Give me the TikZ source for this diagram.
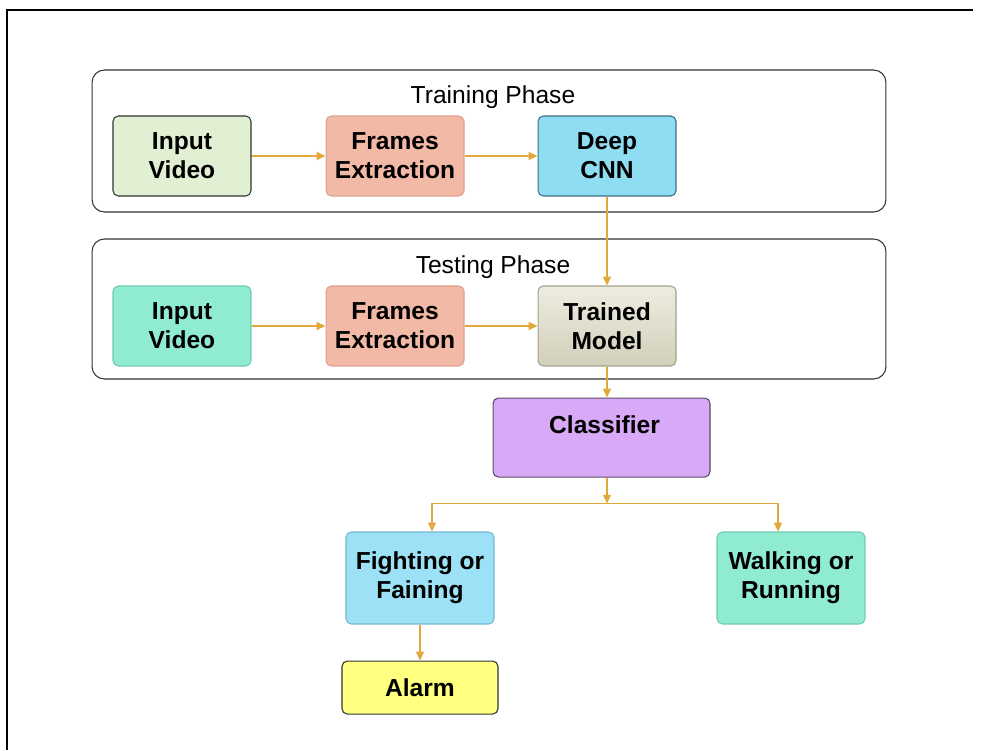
\documentclass[tikz,border=0pt]{standalone}
\usepackage{fontspec}
\setmainfont{Liberation Sans}
\usetikzlibrary{positioning, arrows.meta}
\definecolor{arrowcol}{HTML}{E2A83C}
\definecolor{greenfill}{HTML}{E1EFD2}
\definecolor{salmonfill}{HTML}{F2B9A6}
\definecolor{salmonline}{HTML}{DDA08E}
\definecolor{cyanfill}{HTML}{8EDDF3}
\definecolor{cyanline}{HTML}{3E6E82}
\definecolor{aquafill}{HTML}{90EBD3}
\definecolor{aqualine}{HTML}{72C9B2}
\definecolor{modeltop}{HTML}{EEECDF}
\definecolor{modelbot}{HTML}{D2D0BA}
\definecolor{modelline}{HTML}{A3A18B}
\definecolor{purplefill}{HTML}{D7A9F7}
\definecolor{purpleline}{HTML}{5C4C68}
\definecolor{skyfill}{HTML}{9DE1F7}
\definecolor{skyline}{HTML}{72B9D2}
\definecolor{yellowfill}{HTML}{FFFF80}
\tikzstyle{arrow} = [draw=arrowcol, line width=0.7pt, -{Triangle[length=5pt,width=4.5pt]}]
\tikzstyle{phase} = [draw=black!80, rounded corners=7pt, line width=0.6pt, minimum width=15.88cm, inner sep=0pt]
\tikzstyle{phasetitle} = [font=\fontsize{14}{16.5}\selectfont, inner sep=0pt]
\tikzstyle{blk} = [rectangle, rounded corners=3pt, minimum width=2.76cm, minimum height=1.6cm, align=center, font=\fontsize{14}{16.5}\selectfont\bfseries, inner sep=0pt, line width=0.6pt]

\begin{document}
\begin{tikzpicture}[x=0.02cm, y=-0.02cm]
		\useasboundingbox (0,0) rectangle (983,750);
		\draw [line width=1.6pt] (7,750) -- (7,10) -- (973,10);
		\node (train) [phase, minimum height=2.84cm] at (489,141) {};
		\node (trtitle) [phasetitle] at (493,97) {Training Phase};
		\node (test) [phase, minimum height=2.8cm] at (489,309) {};
		\node (tetitle) [phasetitle] at (493,267) {Testing Phase};
		\node (in1) [blk, fill=greenfill, draw=black!80] at (182,156) {Input\\Video};
		\node (fe1) [blk, fill=salmonfill, draw=salmonline, right=1.48cm of in1] {Frames\\Extraction};
		\node (cnn) [blk, fill=cyanfill, draw=cyanline, right=1.46cm of fe1] {Deep\\CNN};
		\draw [arrow] (in1) -- (fe1);
		\draw [arrow] (fe1) -- (cnn);
		\node (in2) [blk, fill=aquafill, draw=aqualine] at (182,326) {Input\\Video};
		\node (fe2) [blk, fill=salmonfill, draw=salmonline, right=1.48cm of in2] {Frames\\Extraction};
		\node (tm) [blk, top color=modeltop, bottom color=modelbot, draw=modelline, right=1.46cm of fe2] {Trained\\Model};
		\draw [arrow] (in2) -- (fe2);
		\draw [arrow] (fe2) -- (tm);
		\draw [arrow] (cnn) -- (tm);
		\node (cls) [blk, fill=purplefill, draw=purpleline, minimum width=4.34cm, minimum height=1.58cm, below=0.62cm of tm, xshift=-0.11cm,
			label={[font=\fontsize{14}{16.5}\selectfont\bfseries, inner sep=0pt, anchor=north, yshift=-0.36cm, xshift=0.06cm]north:Classifier}] {};
		\draw [arrow] (tm) -- (tm |- cls.north);
		\coordinate (split) at ([yshift=-0.52cm]tm |- cls.south);
		\draw [arrow] (tm |- cls.south) -- (split);
		\node (fight) [blk, fill=skyfill, draw=skyline, minimum width=2.96cm, minimum height=1.84cm] at (420,578) {Fighting or\\Faining};
		\node (walk) [blk, fill=aquafill, draw=aqualine, minimum width=2.96cm, minimum height=1.84cm] at (791,578) {Walking or\\Running};
		\draw [arrow] (split) -| ([xshift=0.24cm]fight.north);
		\draw [arrow] (split) -| ([xshift=-0.26cm]walk.north);
		\node (alarm) [blk, fill=yellowfill, draw=black!80, minimum width=3.12cm, minimum height=1.06cm, below=0.72cm of fight] {Alarm};
		\draw [arrow] (fight) -- (alarm);
\end{tikzpicture}
\end{document}
